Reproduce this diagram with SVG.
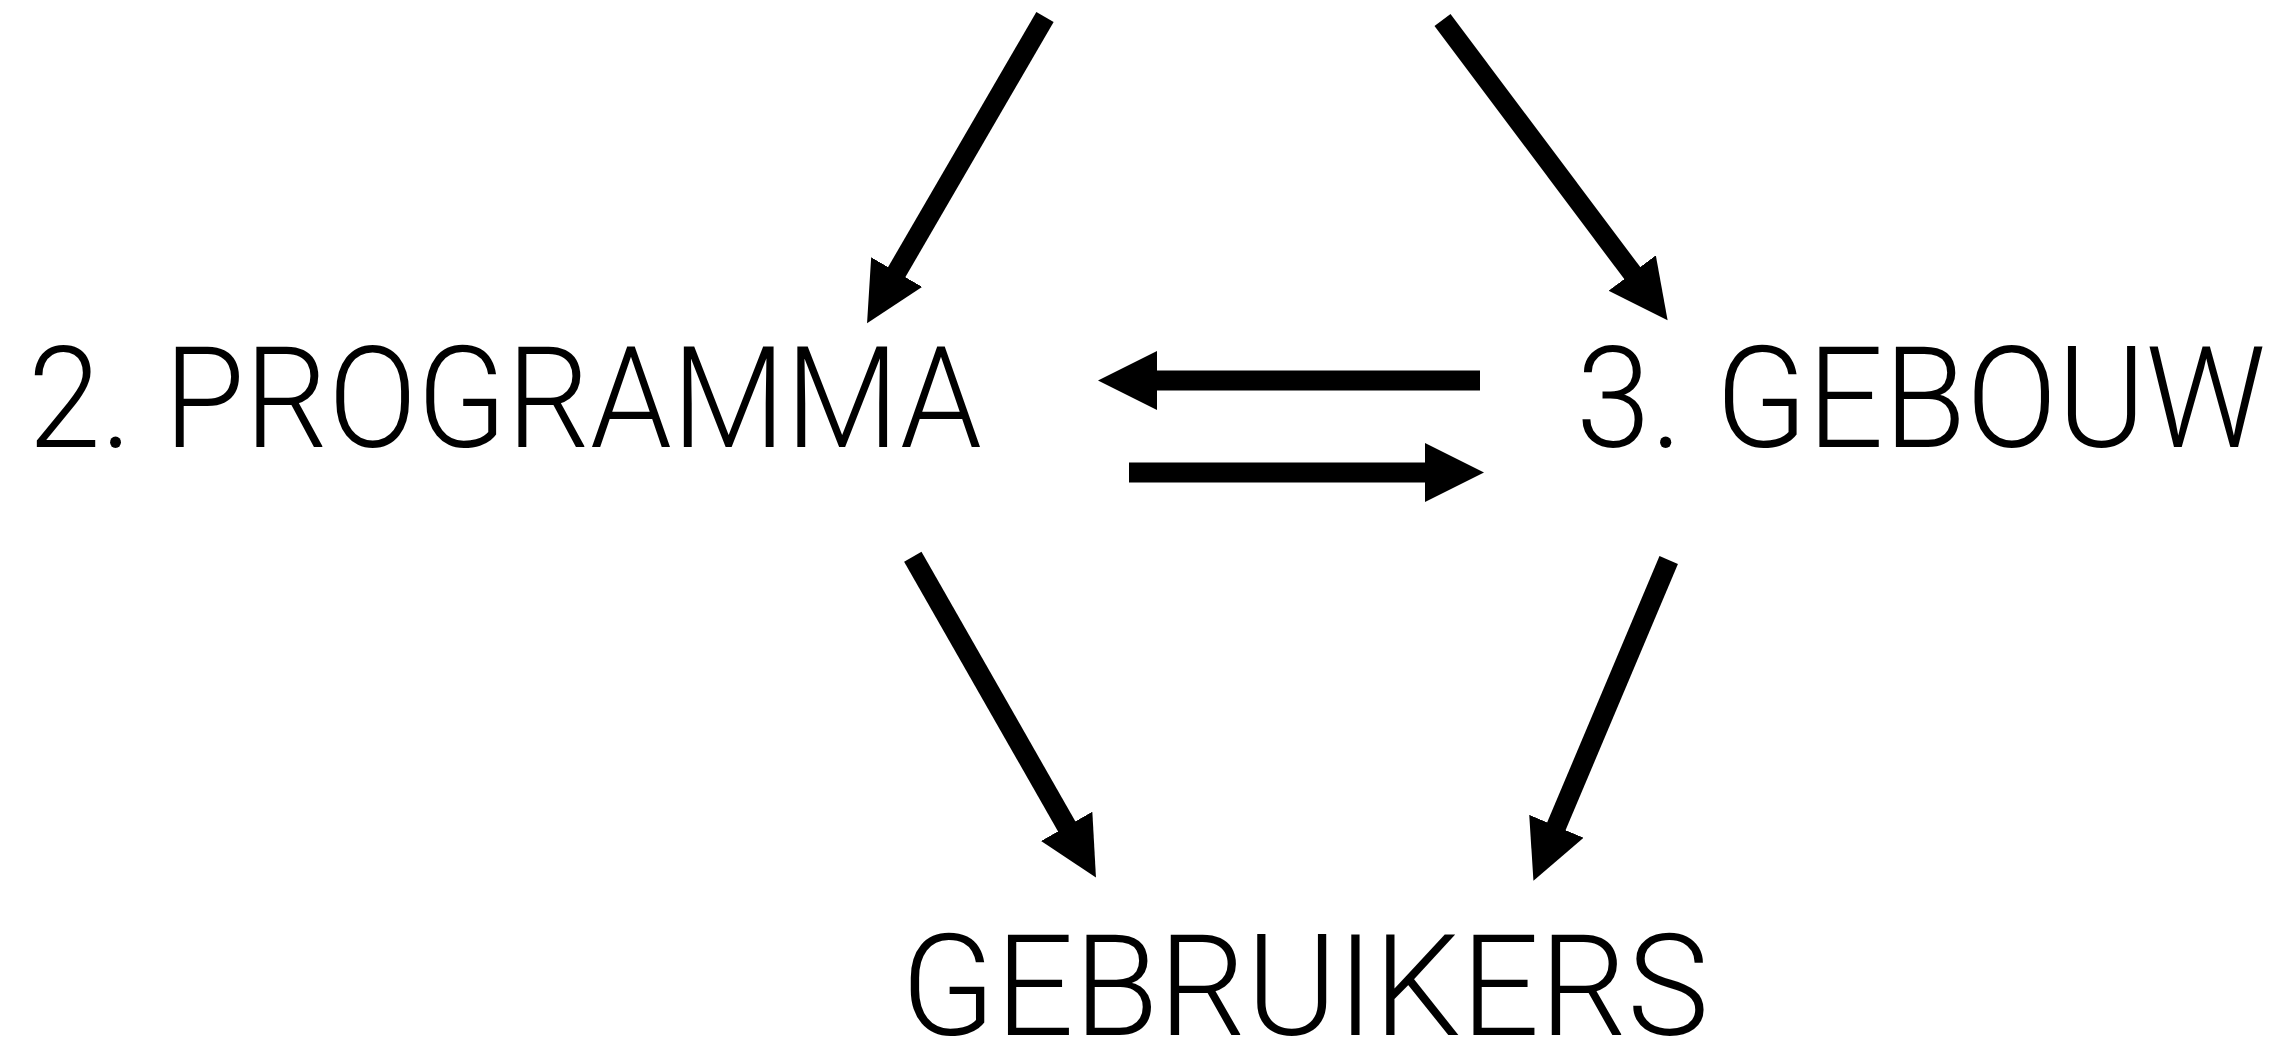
<svg xmlns="http://www.w3.org/2000/svg" width="2278" height="1042" viewBox="0 0 2278 1042">
  <style>
    .label { font-family: Roboto, "Liberation Sans", sans-serif; font-weight: 300; font-size: 141px; fill: #000; }
    .conn { stroke: #000; stroke-width: 20; fill: none; stroke-linecap: butt; }
  </style>
  <defs>
    <marker id="ah" markerUnits="userSpaceOnUse" viewBox="0 0 60 60" markerWidth="60" markerHeight="60" refX="1" refY="29.5" orient="auto">
      <path d="M0,0 L59,29.5 L0,59 Z" fill="#000"/>
    </marker>
  </defs>
  <rect x="0" y="0" width="2278" height="1042" fill="#fff"/>
  <g id="connectors">
    <path class="conn" d="M1045,17 L896.2,273" marker-end="url(#ah)"/>
    <path class="conn" d="M1442.5,20 L1632.8,273.8" marker-end="url(#ah)"/>
    <path class="conn" d="M1480,380.5 L1156,380.5" marker-end="url(#ah)"/>
    <path class="conn" d="M1129,472.5 L1426,472.5" marker-end="url(#ah)"/>
    <path class="conn" d="M912.8,556.7 L1067.2,827.2" marker-end="url(#ah)"/>
    <path class="conn" d="M1668.7,560 L1556,827.2" marker-end="url(#ah)"/>
  </g>
  <g id="node-programma">
    <text class="label" x="28" y="447" textLength="954" lengthAdjust="spacingAndGlyphs">2. PROGRAMMA</text>
  </g>
  <g id="node-gebouw">
    <text class="label" x="1576" y="447" textLength="690" lengthAdjust="spacingAndGlyphs">3. GEBOUW</text>
  </g>
  <g id="node-gebruikers">
    <text class="label" x="901" y="1035" textLength="808" lengthAdjust="spacingAndGlyphs">GEBRUIKERS</text>
  </g>
</svg>
